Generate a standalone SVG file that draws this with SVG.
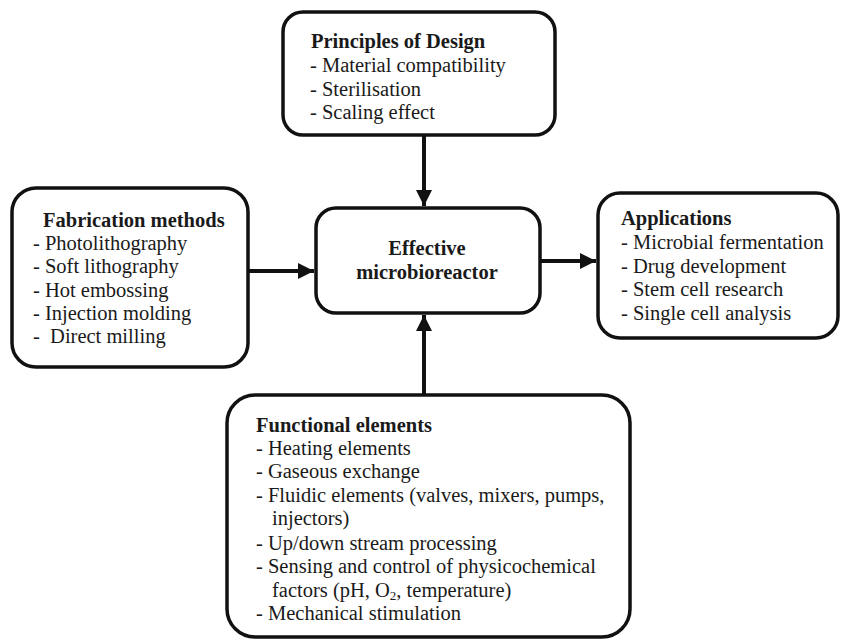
<svg xmlns="http://www.w3.org/2000/svg" width="841" height="640" viewBox="0 0 841 640">
<defs>
<style>
.box{fill:#fff;stroke:#111;stroke-width:3.5}
text{font-family:"Liberation Serif","Times New Roman",serif;font-size:20.5px;fill:#1a1a1a}
.b{font-weight:bold}
.c{text-anchor:middle}
.con{stroke:#111;stroke-width:4;fill:none}
</style>
<marker id="ah" viewBox="0 0 10 10" refX="10" refY="5" markerWidth="4" markerHeight="4" markerUnits="strokeWidth" orient="auto">
<path d="M0,0 L10,5 L0,10 z" fill="#111"/>
</marker>
</defs>
<rect width="841" height="640" fill="#fff"/>
<g id="connectors">
<line class="con" x1="424" y1="135" x2="424" y2="206" marker-end="url(#ah)"/>
<line class="con" x1="248" y1="271" x2="314" y2="271" marker-end="url(#ah)"/>
<line class="con" x1="540" y1="261" x2="596" y2="261" marker-end="url(#ah)"/>
<line class="con" x1="424" y1="395" x2="424" y2="315" marker-end="url(#ah)"/>
</g>
<g id="principles">
<rect class="box" x="283" y="12" width="272" height="123" rx="20"/>
<text x="311" y="48" class="b">Principles of Design</text>
<text x="310" y="72">- Material compatibility</text>
<text x="310" y="96">- Sterilisation</text>
<text x="310" y="119">- Scaling effect</text>
</g>
<g id="fabrication">
<rect class="box" x="12" y="188" width="236" height="179" rx="24"/>
<text x="43" y="227" class="b">Fabrication methods</text>
<text x="33" y="250">- Photolithography</text>
<text x="33" y="273">- Soft lithography</text>
<text x="33" y="297">- Hot embossing</text>
<text x="33" y="320">- Injection molding</text>
<text x="33" y="343" xml:space="preserve">-  Direct milling</text>
</g>
<g id="center">
<rect class="box" x="316" y="208" width="224" height="105" rx="20"/>
<text x="427" y="255" class="b c">Effective</text>
<text x="427" y="279" class="b c">microbioreactor</text>
</g>
<g id="applications">
<rect class="box" x="598" y="193" width="240" height="145" rx="22"/>
<text x="621" y="225" class="b">Applications</text>
<text x="621" y="249">- Microbial fermentation</text>
<text x="621" y="273">- Drug development</text>
<text x="621" y="296">- Stem cell research</text>
<text x="621" y="320">- Single cell analysis</text>
</g>
<g id="functional">
<rect class="box" x="227" y="395" width="403" height="242" rx="28"/>
<text x="256" y="432" class="b">Functional elements</text>
<text x="256" y="455">- Heating elements</text>
<text x="256" y="478">- Gaseous exchange</text>
<text x="256" y="502">- Fluidic elements (valves, mixers, pumps,</text>
<text x="272" y="525">injectors)</text>
<text x="256" y="550">- Up/down stream processing</text>
<text x="256" y="573">- Sensing and control of physicochemical</text>
<text x="272" y="597">factors (pH, O<tspan font-size="13" baseline-shift="-3">2</tspan>, temperature)</text>
<text x="256" y="620">- Mechanical stimulation</text>
</g>
</svg>
